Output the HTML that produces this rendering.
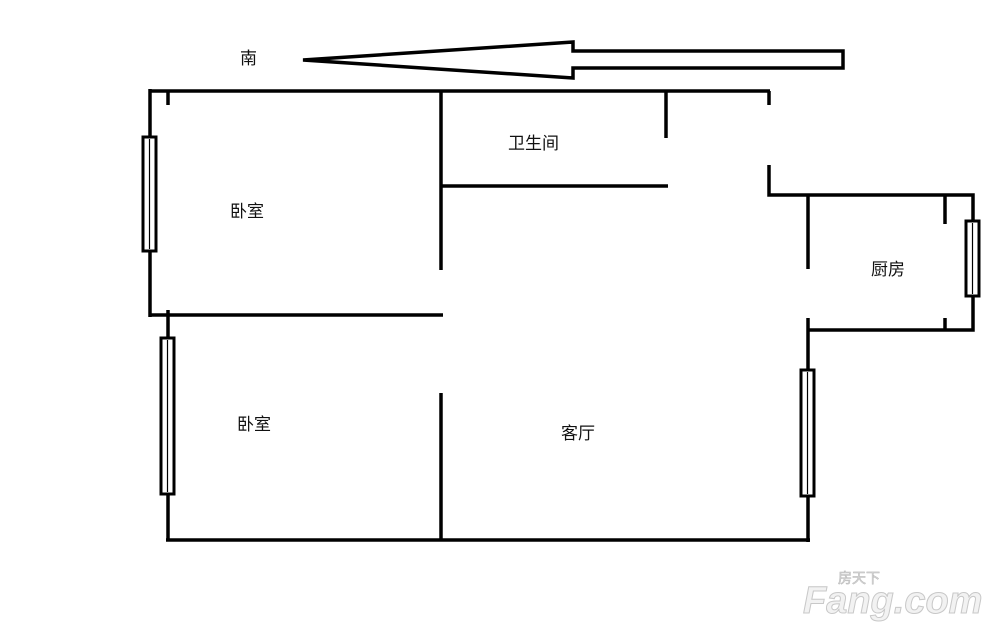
<!DOCTYPE html>
<html><head><meta charset="utf-8"><style>
html,body{margin:0;padding:0;background:#fff;}
svg text{font-family:"Liberation Sans","Noto Sans CJK SC",sans-serif;font-size:17px;fill:#111;}
</style></head><body>
<svg width="1000" height="637" viewBox="0 0 1000 637" xmlns="http://www.w3.org/2000/svg">
<g stroke="#000" stroke-width="3.5" fill="none" stroke-linecap="butt">
<polygon points="303,60 573,42 573,51 843,51 843,68 573,68 573,78" stroke-width="3.5" stroke-linejoin="miter"/>
<polyline points="150,91 770,91"/>
<line x1="150" y1="89" x2="150" y2="317"/>
<line x1="168" y1="91" x2="168" y2="105"/>
<line x1="441" y1="91" x2="441" y2="270"/>
<line x1="441" y1="186" x2="668" y2="186"/>
<line x1="666" y1="91" x2="666" y2="138"/>
<line x1="769" y1="91" x2="769" y2="105"/>
<polyline points="769,165 769,195 973,195 973,330 808,330"/>
<line x1="808" y1="195" x2="808" y2="269"/>
<line x1="808" y1="318" x2="808" y2="542"/>
<line x1="945" y1="195" x2="945" y2="224"/>
<line x1="945" y1="318" x2="945" y2="330"/>
<line x1="150" y1="315" x2="443" y2="315"/>
<line x1="168" y1="310" x2="168" y2="541"/>
<line x1="441" y1="393" x2="441" y2="540"/>
<line x1="166" y1="540" x2="810" y2="540"/>
</g>
<g stroke="#000" stroke-width="3" fill="#fff">
<rect x="143" y="137" width="13" height="114"/>
<rect x="161" y="338" width="13" height="156"/>
<rect x="801" y="370" width="13" height="126"/>
<rect x="966" y="221" width="13" height="75"/>
</g>
<g stroke="#000" stroke-width="1.2">
<line x1="149.5" y1="139" x2="149.5" y2="249"/>
<line x1="167.5" y1="340" x2="167.5" y2="492"/>
<line x1="807.5" y1="372" x2="807.5" y2="494"/>
<line x1="972.5" y1="223" x2="972.5" y2="294"/>
</g>
<text x="240" y="64">南</text>
<text x="230" y="217">卧室</text>
<text x="508" y="149">卫生间</text>
<text x="871" y="275">厨房</text>
<text x="237" y="430">卧室</text>
<text x="561" y="439">客厅</text>
<text x="838" y="583" style="font-size:14px;fill:#ddd;stroke:#bbb;stroke-width:0.6">房天下</text>
<text x="803" y="613" style="font-size:38px;font-weight:bold;font-style:italic;fill:#f2f2f2;stroke:#c8c8c8;stroke-width:1">Fang.com</text>
</svg>
</body></html>
